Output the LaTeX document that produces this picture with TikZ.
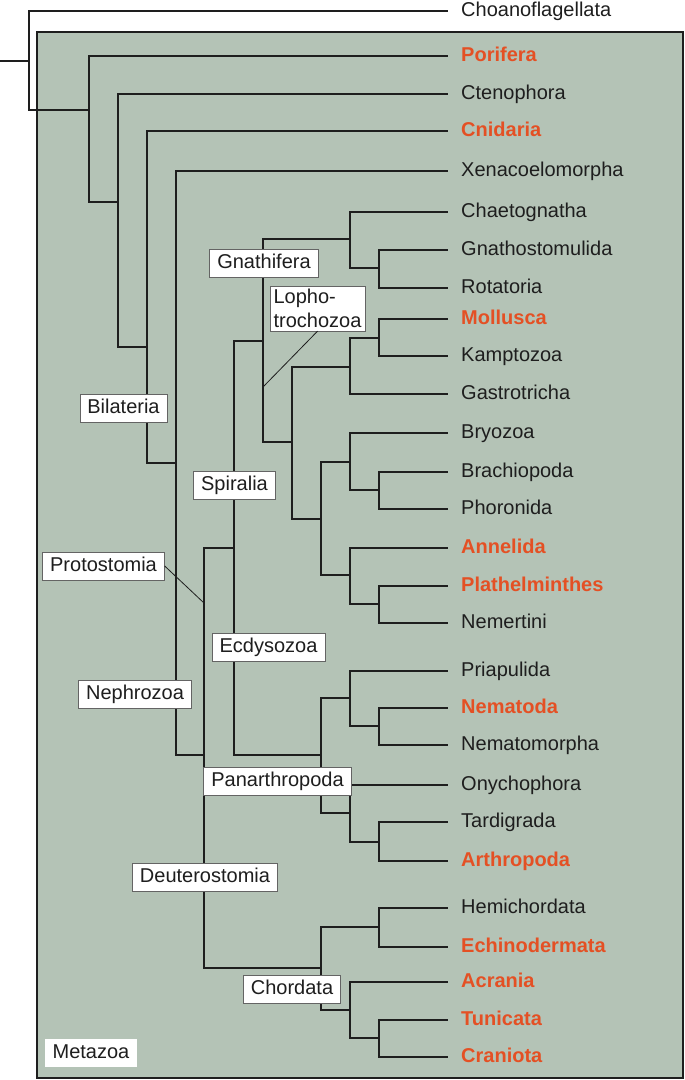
\documentclass[tikz,border=0pt]{standalone}
\usepackage{fontspec}
\setmainfont{Liberation Sans}
\definecolor{bg}{RGB}{180,195,182}
\definecolor{hl}{RGB}{228,80,36}
\definecolor{ink}{RGB}{30,30,30}
\definecolor{boxline}{RGB}{100,100,100}
\begin{document}
\begin{tikzpicture}[x=1pt,y=-1pt,
  tree/.style={draw=ink,line width=1.8pt,line cap=butt,line join=miter},
  pointer/.style={draw=ink,line width=0.8pt},
  leaf/.style={anchor=west,inner xsep=13pt,inner ysep=0pt,text height=12pt,text depth=2pt,
    font=\fontsize{20}{24}\selectfont,text=ink},
  hleaf/.style={leaf,text=hl,font=\fontsize{20}{24}\selectfont\bfseries},
  lbox/.style={draw=boxline,line width=0.7pt,fill=white,inner xsep=7.5pt,inner ysep=7pt,
    text height=12pt,text depth=2pt,font=\fontsize{20}{24}\selectfont,text=ink},
  frame/.style={draw=ink,line width=1.5pt,fill=bg}]
\useasboundingbox (0,0) rectangle (685,1080);
\path[frame] (37,32) rectangle (683,1078);

% leaves
\node[leaf]  (choano)  at (448,11)   {Choanoflagellata};
\node[hleaf] (porif)   at (448,56)   {Porifera};
\node[leaf]  (cteno)   at (448,94)   {Ctenophora};
\node[hleaf] (cnid)    at (448,131)  {Cnidaria};
\node[leaf]  (xeno)    at (448,171)  {Xenacoelomorpha};
\node[leaf]  (chaeto)  at (448,212)  {Chaetognatha};
\node[leaf]  (gnathos) at (448,250)  {Gnathostomulida};
\node[leaf]  (rotat)   at (448,288)  {Rotatoria};
\node[hleaf] (moll)    at (448,319)  {Mollusca};
\node[leaf]  (kampt)   at (448,356)  {Kamptozoa};
\node[leaf]  (gastro)  at (448,394)  {Gastrotricha};
\node[leaf]  (bryo)    at (448,433)  {Bryozoa};
\node[leaf]  (brach)   at (448,472)  {Brachiopoda};
\node[leaf]  (phor)    at (448,509)  {Phoronida};
\node[hleaf] (annel)   at (448,548)  {Annelida};
\node[hleaf] (plath)   at (448,586)  {Plathelminthes};
\node[leaf]  (nemert)  at (448,623)  {Nemertini};
\node[leaf]  (priap)   at (448,671)  {Priapulida};
\node[hleaf] (nemato)  at (448,708)  {Nematoda};
\node[leaf]  (nematom) at (448,745)  {Nematomorpha};
\node[leaf]  (onych)   at (448,785)  {Onychophora};
\node[leaf]  (tardi)   at (448,822)  {Tardigrada};
\node[hleaf] (arthro)  at (448,861)  {Arthropoda};
\node[leaf]  (hemi)    at (448,908)  {Hemichordata};
\node[hleaf] (echino)  at (448,947)  {Echinodermata};
\node[hleaf] (acran)   at (448,982)  {Acrania};
\node[hleaf] (tunic)   at (448,1020) {Tunicata};
\node[hleaf] (crani)   at (448,1057) {Craniota};

% internal branch points
\coordinate (stub) at (0,61);
\coordinate (R)   at (29,61);
\coordinate (M)   at (89,110);
\coordinate (N2)  at (118,202);
\coordinate (N3)  at (147,347);
\coordinate (Bil) at (176,463);
\coordinate (Nep) at (204,755);
\coordinate (Pro) at (234,548);
\coordinate (Spi) at (263,341);
\coordinate (Gna) at (350,239);
\coordinate (G2)  at (379,268);
\coordinate (Lop) at (292,442);
\coordinate (L1)  at (350,367);
\coordinate (L1a) at (379,338);
\coordinate (L2)  at (321,519);
\coordinate (L3)  at (350,462);
\coordinate (L3a) at (379,490);
\coordinate (L4)  at (350,575);
\coordinate (L4a) at (379,604);
\coordinate (Ecd) at (321,755);
\coordinate (E1)  at (350,698);
\coordinate (E1a) at (379,726);
\coordinate (E2)  at (350,813);
\coordinate (E2a) at (379,842);
\coordinate (Deu) at (321,968);
\coordinate (D1)  at (379,927);
\coordinate (D2)  at (350,1010);
\coordinate (D2a) at (379,1038);
\coordinate (pLop) at (263,387);
\coordinate (pPro) at (204,603);

% tree
\draw[tree] (stub) -- (R);
\draw[tree] (R) |- (choano.west);
\draw[tree] (R) |- (M);
\draw[tree] (M) |- (porif.west);
\draw[tree] (M) |- (N2);
\draw[tree] (N2) |- (cteno.west);
\draw[tree] (N2) |- (N3);
\draw[tree] (N3) |- (cnid.west);
\draw[tree] (N3) |- (Bil);
\draw[tree] (Bil) |- (xeno.west);
\draw[tree] (Bil) |- (Nep);
\draw[tree] (Nep) |- (Pro);
\draw[tree] (Nep) |- (Deu);
\draw[tree] (Pro) |- (Spi);
\draw[tree] (Pro) |- (Ecd);
\draw[tree] (Spi) |- (Gna);
\draw[tree] (Spi) |- (Lop);
\draw[tree] (Gna) |- (chaeto.west);
\draw[tree] (Gna) |- (G2);
\draw[tree] (G2) |- (gnathos.west);
\draw[tree] (G2) |- (rotat.west);
\draw[tree] (Lop) |- (L1);
\draw[tree] (Lop) |- (L2);
\draw[tree] (L1) |- (L1a);
\draw[tree] (L1) |- (gastro.west);
\draw[tree] (L1a) |- (moll.west);
\draw[tree] (L1a) |- (kampt.west);
\draw[tree] (L2) |- (L3);
\draw[tree] (L2) |- (L4);
\draw[tree] (L3) |- (bryo.west);
\draw[tree] (L3) |- (L3a);
\draw[tree] (L3a) |- (brach.west);
\draw[tree] (L3a) |- (phor.west);
\draw[tree] (L4) |- (annel.west);
\draw[tree] (L4) |- (L4a);
\draw[tree] (L4a) |- (plath.west);
\draw[tree] (L4a) |- (nemert.west);
\draw[tree] (Ecd) |- (E1);
\draw[tree] (Ecd) |- (E2);
\draw[tree] (E1) |- (priap.west);
\draw[tree] (E1) |- (E1a);
\draw[tree] (E1a) |- (nemato.west);
\draw[tree] (E1a) |- (nematom.west);
\draw[tree] (E2) |- (onych.west);
\draw[tree] (E2) |- (E2a);
\draw[tree] (E2a) |- (tardi.west);
\draw[tree] (E2a) |- (arthro.west);
\draw[tree] (Deu) |- (D1);
\draw[tree] (Deu) |- (D2);
\draw[tree] (D1) |- (hemi.west);
\draw[tree] (D1) |- (echino.west);
\draw[tree] (D2) |- (acran.west);
\draw[tree] (D2) |- (D2a);
\draw[tree] (D2a) |- (tunic.west);
\draw[tree] (D2a) |- (crani.west);

% clade labels
\node[lbox] (gnathi) at (264,263) {Gnathifera};
\node[lbox,text height=,text depth=,inner xsep=3.5pt,inner ysep=3pt,align=left,
  font=\fontsize{20}{24}\selectfont] (lopho) at (317.5,308.5) {Lopho-\\trochozoa};
\node[lbox] (bilat) at (123.5,408) {Bilateria};
\node[lbox] (spir)  at (234.5,485.5) {Spiralia};
\node[lbox] (proto) at (103.5,566) {Protostomia};
\node[lbox] (ecdy)  at (268.5,647.5) {Ecdysozoa};
\node[lbox] (nephro) at (135,694) {Nephrozoa};
\node[lbox] (panar) at (277.5,781.5) {Panarthropoda};
\node[lbox] (deut)  at (205,877) {Deuterostomia};
\node[lbox] (chord) at (292,989) {Chordata};
\node[lbox,draw=none] (meta) at (91,1053) {Metazoa};

\draw[pointer] (lopho.south) -- (pLop);
\draw[pointer] (proto.east) -- (pPro);
\end{tikzpicture}
\end{document}
